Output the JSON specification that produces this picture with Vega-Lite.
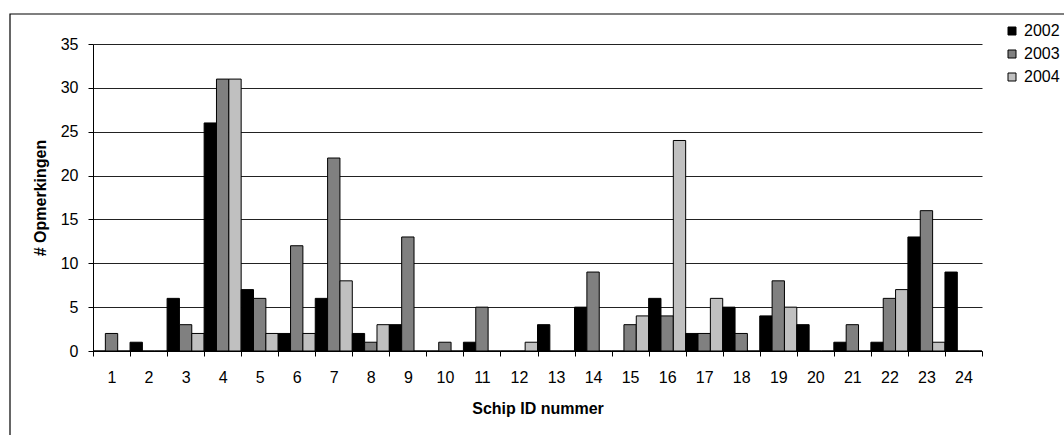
{
  "$schema": "https://vega.github.io/schema/vega-lite/v6.json",
  "width": 889,
  "height": 307,
  "autosize": {"type": "none"},
  "padding": {"left": 93, "top": 44, "right": 82, "bottom": 84},
  "background": "#ffffff",
  "config": {
    "font": "Liberation Sans",
    "view": {"stroke": null},
    "axis": {"labelFont": "Liberation Sans", "titleFont": "Liberation Sans", "labelColor": "#000", "titleColor": "#000"}
  },
  "datasets": {
    "opm": [
      {"id": 1, "year": "2002", "n": 0}, {"id": 1, "year": "2003", "n": 2}, {"id": 1, "year": "2004", "n": 0},
      {"id": 2, "year": "2002", "n": 1}, {"id": 2, "year": "2003", "n": 0}, {"id": 2, "year": "2004", "n": 0},
      {"id": 3, "year": "2002", "n": 6}, {"id": 3, "year": "2003", "n": 3}, {"id": 3, "year": "2004", "n": 2},
      {"id": 4, "year": "2002", "n": 26}, {"id": 4, "year": "2003", "n": 31}, {"id": 4, "year": "2004", "n": 31},
      {"id": 5, "year": "2002", "n": 7}, {"id": 5, "year": "2003", "n": 6}, {"id": 5, "year": "2004", "n": 2},
      {"id": 6, "year": "2002", "n": 2}, {"id": 6, "year": "2003", "n": 12}, {"id": 6, "year": "2004", "n": 2},
      {"id": 7, "year": "2002", "n": 6}, {"id": 7, "year": "2003", "n": 22}, {"id": 7, "year": "2004", "n": 8},
      {"id": 8, "year": "2002", "n": 2}, {"id": 8, "year": "2003", "n": 1}, {"id": 8, "year": "2004", "n": 3},
      {"id": 9, "year": "2002", "n": 3}, {"id": 9, "year": "2003", "n": 13}, {"id": 9, "year": "2004", "n": 0},
      {"id": 10, "year": "2002", "n": 0}, {"id": 10, "year": "2003", "n": 1}, {"id": 10, "year": "2004", "n": 0},
      {"id": 11, "year": "2002", "n": 1}, {"id": 11, "year": "2003", "n": 5}, {"id": 11, "year": "2004", "n": 0},
      {"id": 12, "year": "2002", "n": 0}, {"id": 12, "year": "2003", "n": 0}, {"id": 12, "year": "2004", "n": 1},
      {"id": 13, "year": "2002", "n": 3}, {"id": 13, "year": "2003", "n": 0}, {"id": 13, "year": "2004", "n": 0},
      {"id": 14, "year": "2002", "n": 5}, {"id": 14, "year": "2003", "n": 9}, {"id": 14, "year": "2004", "n": 0},
      {"id": 15, "year": "2002", "n": 0}, {"id": 15, "year": "2003", "n": 3}, {"id": 15, "year": "2004", "n": 4},
      {"id": 16, "year": "2002", "n": 6}, {"id": 16, "year": "2003", "n": 4}, {"id": 16, "year": "2004", "n": 24},
      {"id": 17, "year": "2002", "n": 2}, {"id": 17, "year": "2003", "n": 2}, {"id": 17, "year": "2004", "n": 6},
      {"id": 18, "year": "2002", "n": 5}, {"id": 18, "year": "2003", "n": 2}, {"id": 18, "year": "2004", "n": 0},
      {"id": 19, "year": "2002", "n": 4}, {"id": 19, "year": "2003", "n": 8}, {"id": 19, "year": "2004", "n": 5},
      {"id": 20, "year": "2002", "n": 3}, {"id": 20, "year": "2003", "n": 0}, {"id": 20, "year": "2004", "n": 0},
      {"id": 21, "year": "2002", "n": 1}, {"id": 21, "year": "2003", "n": 3}, {"id": 21, "year": "2004", "n": 0},
      {"id": 22, "year": "2002", "n": 1}, {"id": 22, "year": "2003", "n": 6}, {"id": 22, "year": "2004", "n": 7},
      {"id": 23, "year": "2002", "n": 13}, {"id": 23, "year": "2003", "n": 16}, {"id": 23, "year": "2004", "n": 1},
      {"id": 24, "year": "2002", "n": 9}, {"id": 24, "year": "2003", "n": 0}, {"id": 24, "year": "2004", "n": 0}
    ],
    "frame": [{"f": 1}]
  },
  "layer": [
    {
      "data": {"name": "frame"},
      "mark": {"type": "rect", "fill": null, "stroke": "#000", "strokeWidth": 1.2, "clip": false},
      "encoding": {
        "x": {"value": -83},
        "x2": {"value": 1000},
        "y": {"value": -30},
        "y2": {"value": 400}
      }
    },
    {
      "data": {"name": "opm"},
      "mark": {"type": "bar", "stroke": "#000", "strokeWidth": 1},
      "encoding": {
        "x": {
          "field": "id", "type": "ordinal", "sort": "ascending",
          "scale": {"paddingInner": 0, "paddingOuter": 0},
          "axis": {
            "title": "Schip ID nummer", "titleFontSize": 16, "titleFontWeight": "bold", "titlePadding": 15,
            "labelAngle": 0, "labelFontSize": 16, "labelPadding": 13,
            "tickBand": "extent", "tickSize": 5, "tickColor": "#000", "domainColor": "#000",
            "grid": false
          }
        },
        "xOffset": {"field": "year", "type": "nominal", "scale": {"paddingInner": 0, "paddingOuter": 0}},
        "y": {
          "field": "n", "type": "quantitative",
          "scale": {"domain": [0, 35], "nice": false},
          "axis": {
            "title": "# Opmerkingen", "titleFontSize": 16, "titleFontWeight": "bold", "titlePadding": 12,
            "values": [0, 5, 10, 15, 20, 25, 30, 35],
            "labelFontSize": 16, "labelPadding": 10, "tickSize": 5, "tickColor": "#000",
            "domainColor": "#000", "grid": true, "gridColor": "#222", "gridOpacity": 1
          }
        },
        "fill": {
          "field": "year", "type": "nominal",
          "scale": {"domain": ["2002", "2003", "2004"], "range": ["#000000", "#808080", "#c0c0c0"]},
          "legend": {
            "title": null, "orient": "none", "legendX": 911, "legendY": -21,
            "symbolType": "square", "symbolSize": 64, "symbolStrokeColor": "#000", "symbolStrokeWidth": 1,
            "labelFontSize": 16, "labelColor": "#000", "rowPadding": 7, "labelOffset": 4
          }
        }
      }
    }
  ]
}
